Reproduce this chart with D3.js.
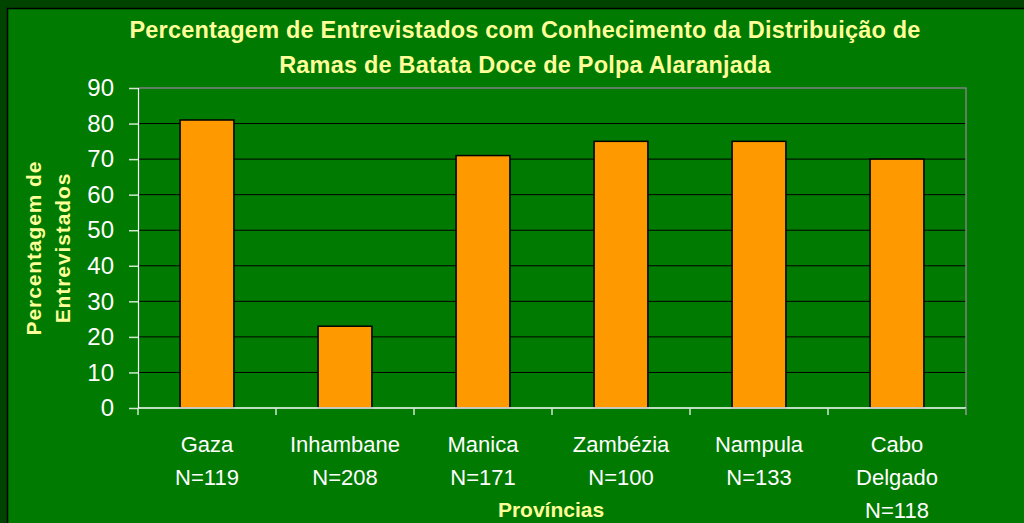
<!DOCTYPE html>
<html>
<head>
<meta charset="utf-8">
<script src="https://cdn.jsdelivr.net/npm/d3@7"></script>
<style>
  html, body { margin: 0; padding: 0; background: #004400; }
  svg { display: block; }
  text { font-family: "Liberation Sans", Arial, sans-serif; }
</style>
</head>
<body>
<div id="chart-area"></div>
<script>
// DATA
const provinces = ["Gaza", "Inhambane", "Manica", "Zambézia", "Nampula", "Cabo Delgado"];
const sampleSizes = ["N=119", "N=208", "N=171", "N=100", "N=133", "N=118"];
const percentages = [81, 23, 71, 75, 75, 70];
const yTicks = [0, 10, 20, 30, 40, 50, 60, 70, 80, 90];

const W = 1024, H = 523;
const margin = { left: 138, right: 58, top: 88, bottom: 115 };
const width = W - margin.left - margin.right,
    height = H - margin.top - margin.bottom;

const svg = d3.select("#chart-area")
    .append("svg")
    .attr("width", W)
    .attr("height", H);

// backgrounds
svg.append("rect")
    .attr("x", 0).attr("y", 0)
    .attr("width", W).attr("height", H)
    .attr("fill", "#004400");
svg.append("rect")
    .attr("x", 7.5).attr("y", 8.5)
    .attr("width", W).attr("height", H)
    .attr("fill", "#007a00")
    .attr("stroke", "#000")
    .attr("stroke-width", 1.5);

// TITLE
const title = svg.append("text")
    .attr("text-anchor", "middle")
    .attr("fill", "#ffff99")
    .attr("font-size", "23.5px")
    .attr("font-weight", "bold")
    .attr("letter-spacing", "0.2px");
title.append("tspan").attr("x", 525).attr("y", 38)
    .text("Percentagem de Entrevistados com Conhecimento da Distribuição de");
title.append("tspan").attr("x", 525).attr("y", 73)
    .text("Ramas de Batata Doce de Polpa Alaranjada");

const g = svg.append("g")
    .attr("transform", "translate(" + margin.left + ", " + margin.top + ")");

const x = d3.scaleBand()
    .domain(provinces)
    .range([0, width])
    .paddingInner(0.61)
    .paddingOuter(0.305);

const y = d3.scaleLinear()
    .domain([0, 90])
    .range([height, 0]);

// GRIDLINES
g.selectAll(".grid")
    .data(yTicks.filter(d => d > 0 && d < 90))
    .enter()
    .append("line")
    .attr("class", "grid")
    .attr("x1", 0).attr("x2", width)
    .attr("y1", d => y(d)).attr("y2", d => y(d))
    .attr("stroke", "#000")
    .attr("stroke-width", 1);

// plot area top / right border (grey)
g.append("path")
    .attr("d", "M0," + y(90) + "H" + width + "V" + height)
    .attr("fill", "none")
    .attr("stroke", "#808080")
    .attr("stroke-width", 1.5);

// BARS
g.selectAll("rect.bar")
    .data(percentages)
    .enter()
    .append("rect")
    .attr("class", "bar")
    .attr("x", (d, i) => x(provinces[i]))
    .attr("y", d => y(d))
    .attr("width", x.bandwidth())
    .attr("height", d => height - y(d))
    .attr("fill", "#ff9900")
    .attr("stroke", "#000")
    .attr("stroke-width", 1.5);

// Y AXIS
const yAxisCall = d3.axisLeft(y)
    .tickValues(yTicks)
    .tickSize(9)
    .tickPadding(15);
const yAxis = g.append("g")
    .attr("class", "y-axis")
    .call(yAxisCall);
yAxis.select(".domain").attr("stroke", "#ffffff").attr("stroke-width", 1.2);
yAxis.selectAll(".tick line").attr("stroke", "#cfe8cf").attr("stroke-width", 1.5);
yAxis.selectAll(".tick text")
    .attr("fill", "#ffffff")
    .attr("font-size", "24px")
    .attr("font-family", "'Liberation Sans', Arial, sans-serif");

// X AXIS (ticks at category boundaries)
const step = x.step();
g.append("line")
    .attr("x1", 0).attr("x2", width)
    .attr("y1", height).attr("y2", height)
    .attr("stroke", "#ffffff").attr("stroke-width", 1.5);
g.selectAll(".xtick")
    .data(d3.range(provinces.length + 1))
    .enter()
    .append("line")
    .attr("class", "xtick")
    .attr("x1", i => i * step).attr("x2", i => i * step)
    .attr("y1", height).attr("y2", height + 7)
    .attr("stroke", (d, i) => i === provinces.length ? "#999999" : "#cfe8cf")
    .attr("stroke-width", 1.5);

// x labels
const labelLines = provinces.map((p, i) =>
    (p === "Cabo Delgado" ? ["Cabo", "Delgado"] : [p]).concat([sampleSizes[i]]));
const xl = g.selectAll(".xlabel")
    .data(labelLines)
    .enter()
    .append("text")
    .attr("class", "xlabel")
    .attr("text-anchor", "middle")
    .attr("fill", "#ffffff")
    .attr("font-size", "22px")
    .attr("transform", (d, i) => "translate(" + (x(provinces[i]) + x.bandwidth() / 2) + ",0)");
xl.selectAll("tspan")
    .data(d => d)
    .enter()
    .append("tspan")
    .attr("x", 0)
    .attr("y", (d, j) => height + 44 + j * 33)
    .text(d => d);

// X LABEL
svg.append("text")
    .attr("x", 551)
    .attr("y", 517)
    .attr("text-anchor", "middle")
    .attr("fill", "#ffff99")
    .attr("font-size", "21px")
    .attr("font-weight", "bold")
    .text("Províncias");

// Y LABEL
const yl = svg.append("text")
    .attr("text-anchor", "middle")
    .attr("fill", "#ffff99")
    .attr("font-size", "21px")
    .attr("font-weight", "bold")
    .attr("letter-spacing", "0.9px")
    .attr("transform", "translate(0, 248) rotate(-90)");
yl.append("tspan").attr("x", 0).attr("y", 41).text("Percentagem de");
yl.append("tspan").attr("x", 0).attr("y", 70).text("Entrevistados");
</script>
</body>
</html>
